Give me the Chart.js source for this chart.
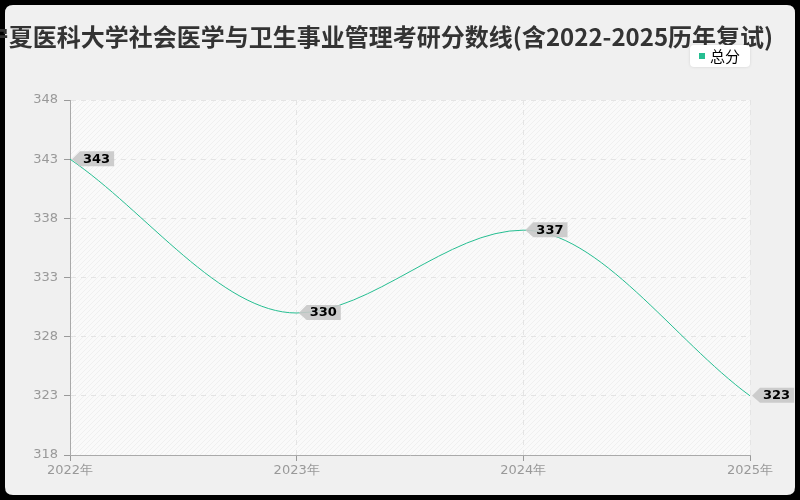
<!DOCTYPE html>
<html>
<head>
<meta charset="utf-8">
<script src="https://cdn.jsdelivr.net/npm/chart.js@4"></script>
<style>
  html, body { margin: 0; padding: 0; background: #000; }
  #wrap { width: 800px; height: 500px; }
</style>
</head>
<body>
<div id="wrap"><canvas id="scoreChart"></canvas></div>
<script>
// data
const years = ['2022年', '2023年', '2024年', '2025年'];
const totalScores = [343, 330, 337, 323];
const yTicks = [318, 323, 328, 333, 338, 343, 348];

const titleText = '宁夏医科大学社会医学与卫生事业管理考研分数线(含2022-2025历年复试)';
const lineColor = 'rgb(38, 190, 145)';

function roundRect(ctx, x, y, w, h, r) {
    ctx.beginPath();
    ctx.moveTo(x + r, y);
    ctx.lineTo(x + w - r, y);
    ctx.quadraticCurveTo(x + w, y, x + w, y + r);
    ctx.lineTo(x + w, y + h - r);
    ctx.quadraticCurveTo(x + w, y + h, x + w - r, y + h);
    ctx.lineTo(x + r, y + h);
    ctx.quadraticCurveTo(x, y + h, x, y + h - r);
    ctx.lineTo(x, y + r);
    ctx.quadraticCurveTo(x, y, x + r, y);
    ctx.closePath();
}

// card background, hatched plot area, title and legend
const decorPlugin = {
    id: 'decor',
    beforeDraw(chart) {
        const ctx = chart.ctx;
        const area = chart.chartArea;
        ctx.save();
        ctx.fillStyle = '#000';
        ctx.fillRect(0, 0, chart.width, chart.height);
        ctx.fillStyle = '#f0f0f0';
        roundRect(ctx, 5, 5, chart.width - 10, chart.height - 10, 8);
        ctx.fill();

        ctx.fillStyle = '#fafafa';
        ctx.fillRect(area.left, area.top, area.right - area.left, area.bottom - area.top);
        ctx.beginPath();
        ctx.rect(area.left, area.top, area.right - area.left, area.bottom - area.top);
        ctx.clip();
        ctx.strokeStyle = '#f0f0f0';
        ctx.lineWidth = 1;
        for (let k = -600; k < 800; k += 5) {
            ctx.beginPath();
            ctx.moveTo(area.left + k, area.bottom);
            ctx.lineTo(area.left + k + 400, area.bottom - 400);
            ctx.stroke();
        }
        ctx.restore();

        // title
        ctx.save();
        ctx.font = 'bold 24px "Noto Sans CJK SC", sans-serif';
        ctx.fillStyle = '#333';
        ctx.textAlign = 'center';
        ctx.textBaseline = 'middle';
        ctx.fillText(titleText, 379, 37);

        // legend
        ctx.shadowColor = 'rgba(0,0,0,0.12)';
        ctx.shadowBlur = 3;
        ctx.fillStyle = '#fff';
        roundRect(ctx, 690, 45, 60, 22, 4);
        ctx.fill();
        ctx.shadowBlur = 0;
        ctx.fillStyle = lineColor;
        ctx.fillRect(699, 53, 6, 6);
        ctx.fillStyle = '#000';
        ctx.font = '15px "Noto Sans CJK SC", sans-serif';
        ctx.textAlign = 'left';
        ctx.fillText('总分', 710, 56);
        ctx.restore();
    }
};

// gray tag labels beside each point
const tagPlugin = {
    id: 'tags',
    afterDatasetsDraw(chart) {
        const ctx = chart.ctx;
        const meta = chart.getDatasetMeta(0);
        ctx.save();
        ctx.font = 'bold 13px "DejaVu Sans", sans-serif';
        ctx.textBaseline = 'middle';
        meta.data.forEach((pt, i) => {
            const text = String(totalScores[i]);
            const w = ctx.measureText(text).width + 7;
            const x = pt.x + 2, y = pt.y;
            ctx.fillStyle = 'rgba(200,200,200,0.9)';
            ctx.beginPath();
            ctx.moveTo(x, y);
            ctx.lineTo(x + 8, y - 8);
            ctx.lineTo(x + 8 + w, y - 8);
            ctx.lineTo(x + 8 + w, y + 7);
            ctx.lineTo(x + 8, y + 7);
            ctx.closePath();
            ctx.fill();
            ctx.fillStyle = '#000';
            ctx.fillText(text, x + 11, y);
        });
        ctx.restore();
    }
};

const ctx = document.getElementById('scoreChart').getContext('2d');
new Chart(ctx, {
    type: 'line',
    data: {
        labels: years,
        datasets: [{
            label: '总分',
            data: totalScores,
            borderColor: lineColor,
            borderWidth: 1,
            pointRadius: 0,
            pointHoverRadius: 0,
            fill: false,
            cubicInterpolationMode: 'monotone'
        }]
    },
    options: {
        responsive: true,
        maintainAspectRatio: false,
        animation: false,
        layout: { padding: { top: 100, right: 50, bottom: 5, left: 0 } },
        plugins: {
            legend: { display: false },
            title: { display: false },
            tooltip: { enabled: false }
        },
        scales: {
            x: {
                offset: false,
                grid: {
                    color: '#e4e4e4',
                    tickColor: '#999',
                    tickLength: 6
                },
                border: { color: '#aaa', dash: [5, 5] },
                ticks: {
                    color: '#999',
                    font: { family: 'DejaVu Sans', size: 13 },
                    padding: 2,
                    maxRotation: 0
                },
                afterFit(scale) { scale.height = 40; }
            },
            y: {
                min: 318,
                max: 348,
                afterBuildTicks(scale) {
                    scale.ticks = yTicks.map(v => ({ value: v }));
                },
                grid: {
                    color: '#e4e4e4',
                    tickColor: '#999',
                    tickLength: 6
                },
                border: { color: '#aaa', dash: [5, 5] },
                ticks: {
                    color: '#999',
                    font: { family: 'DejaVu Sans', size: 13 },
                    padding: 6
                },
                afterFit(scale) { scale.width = 70; }
            }
        }
    },
    plugins: [decorPlugin, tagPlugin]
});
</script>
</body>
</html>
